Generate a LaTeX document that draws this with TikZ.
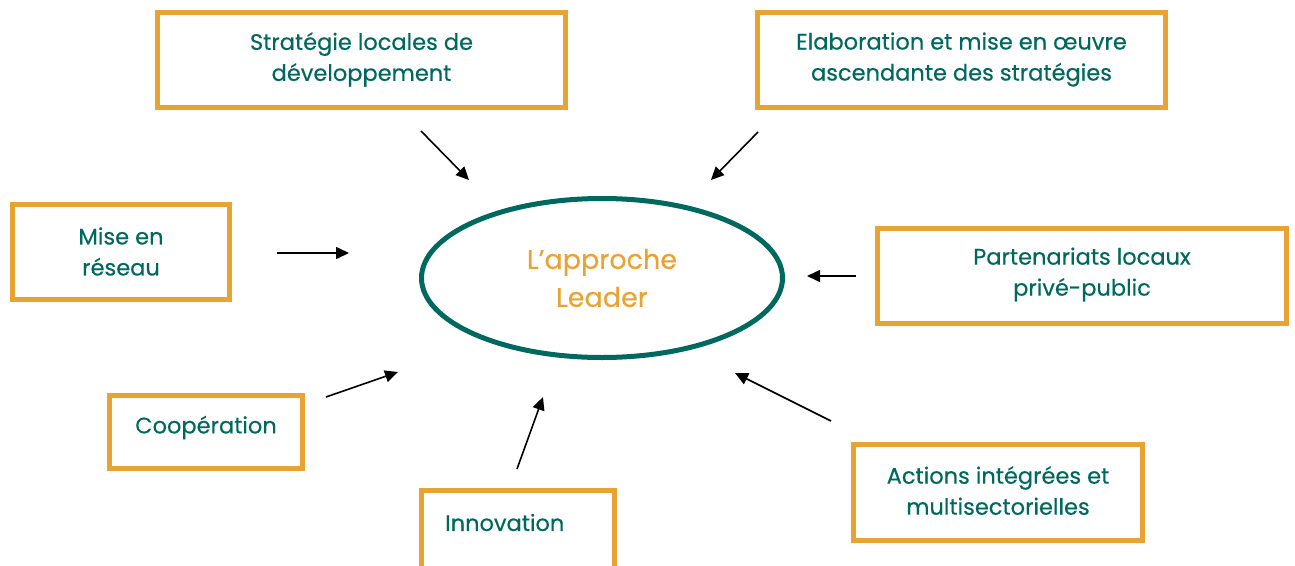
\documentclass[tikz,border=0pt]{standalone}
\usepackage{fontspec}
\setmainfont{Poppins}[FakeBold=0.4]
\usetikzlibrary{arrows.meta,shapes.geometric}
\definecolor{tealc}{RGB}{0,105,95}
\definecolor{gold}{RGB}{232,163,50}
\tikzset{
  box/.style={draw=gold, line width=5pt, inner sep=0pt, fill=white},
  lbl/.style={text=tealc, font=\fontsize{22.5}{31}\selectfont, align=center, inner sep=0pt},
  arr/.style={line width=1.6pt, -{Triangle[length=13pt,width=12pt]}},
}
\begin{document}
\begin{tikzpicture}[x=1pt,y=-1pt]
\useasboundingbox (0,0) rectangle (1295,565);
% ellipse
\node (leader) [draw=tealc, line width=5pt, ellipse, minimum width=361pt, minimum height=159pt, inner sep=0pt,
  text=gold, font=\fontsize{27}{38}\selectfont, align=center] at (602,278) {L’approche\\Leader};
% boxes
\node (strat) [box, minimum width=408pt, minimum height=95pt] at (361.5,60) {};
\node (stratt) [lbl] at (361.5,59.5) {Stratégie locales de\\développement};
\node (elab) [box, minimum width=408pt, minimum height=95pt] at (961.5,60) {};
\node (elabt) [lbl] at (961.5,59.5) {Elaboration et mise en œuvre\\ascendante des stratégies};
\node (reseau) [box, minimum width=217pt, minimum height=95pt] at (121,252) {};
\node (reseaut) [lbl] at (121,251.5) {Mise en\\réseau};
\node (parten) [box, minimum width=409pt, minimum height=95pt] at (1082,276) {};
\node (partent) [lbl] at (1082,274.5) {Partenariats locaux\\privé-public};
\node (coop) [box, minimum width=193pt, minimum height=73pt] at (206,432) {};
\node (coopt) [lbl] at (206,427.5) {Coopération};
\node (innov) [box, minimum width=193pt, minimum height=90pt] at (518,535) {};
\node (innovt) [lbl, anchor=west] at (445,522.5) {Innovation};
\node (actions) [box, minimum width=289pt, minimum height=96pt] at (998,492.5) {};
\node (actionst) [lbl] at (998,490.5) {Actions intégrées et\\multisectorielles};
% arrow ends
\coordinate (a1s) at (421,131); \coordinate (a1e) at (469,180);
\coordinate (a2s) at (758,132); \coordinate (a2e) at (711,180);
\coordinate (a3s) at (277,253); \coordinate (a3e) at (349,253);
\coordinate (a4s) at (856,276); \coordinate (a4e) at (807,276);
\coordinate (a5s) at (326,397); \coordinate (a5e) at (398,372);
\coordinate (a6s) at (517,469); \coordinate (a6e) at (543,397);
\coordinate (a7s) at (831,421); \coordinate (a7e) at (735,373);
\draw[arr] (a1s) -- (a1e);
\draw[arr] (a2s) -- (a2e);
\draw[arr] (a3s) -- (a3e);
\draw[arr] (a4s) -- (a4e);
\draw[arr] (a5s) -- (a5e);
\draw[arr] (a6s) -- (a6e);
\draw[arr] (a7s) -- (a7e);
\end{tikzpicture}
\end{document}
